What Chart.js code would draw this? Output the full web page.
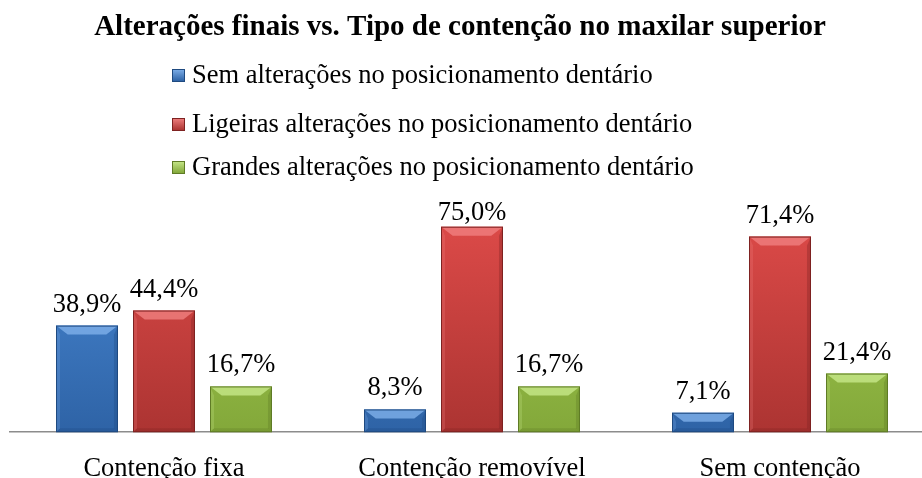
<!DOCTYPE html>
<html><head><meta charset="utf-8">
<script src="https://cdn.jsdelivr.net/npm/chart.js@4"></script>
<style>
html,body{margin:0;padding:0;background:#fff;overflow:hidden;width:922px;height:478px;}
#wrap{position:relative;width:936px;height:478px;overflow:hidden;}
canvas{display:block;}
</style></head>
<body><div id="wrap"><canvas id="c" width="936" height="506"></canvas></div>
<script>
const chartTitle = 'Alterações finais vs. Tipo de contenção no maxilar superior';
const categories = ['Contenção fixa', 'Contenção removível', 'Sem contenção'];
const seriesNames = ['Sem alterações no posicionamento dentário', 'Ligeiras alterações no posicionamento dentário', 'Grandes alterações no posicionamento dentário'];
const semAlteracoes = [38.9, 8.3, 7.1];
const ligeirasAlteracoes = [44.4, 75.0, 71.4];
const grandesAlteracoes = [16.7, 16.7, 21.4];
const palette = [
  {top:'#4a8ad6', mid:'#3d7cc9', bot:'#2e63a6', light:'#7fb0ea', dark:'#1f4a80'},
  {top:'#de4b49', mid:'#d24443', bot:'#ac3432', light:'#f08080', dark:'#7e2221'},
  {top:'#a6cf52', mid:'#9cc54a', bot:'#83a83a', light:'#c7e88a', dark:'#5f7b26'}
];
const serif = '"Liberation Serif","Times New Roman",serif';

function grad(ctx, area, p){
  if(!area) return p.mid;
  const g = ctx.createLinearGradient(0, area.top, 0, area.bottom);
  g.addColorStop(0, p.top); g.addColorStop(1, p.bot);
  return g;
}

const bevelPlugin = {
  id:'bevel',
  afterDatasetsDraw(chart){
    const ctx = chart.ctx;
    chart.data.datasets.forEach((ds, di) => {
      const p = palette[di];
      chart.getDatasetMeta(di).data.forEach((el, idx) => {
        const {x, y, base, width} = el.getProps(['x','y','base','width'], true);
        const l = x - width/2, r = x + width/2, t = y, b = base;
        const h = b - t;
        const bv = Math.min(9, h/2), sv = Math.min(4, width/2);
        ctx.save();
        ctx.fillStyle = p.light; ctx.globalAlpha = 0.8;
        ctx.beginPath(); ctx.moveTo(l,t); ctx.lineTo(r,t); ctx.lineTo(r-bv*1.3,t+bv); ctx.lineTo(l+bv*1.3,t+bv); ctx.closePath(); ctx.fill();
        ctx.globalAlpha = 0.25;
        ctx.beginPath(); ctx.moveTo(l,t); ctx.lineTo(l+sv,t+bv); ctx.lineTo(l+sv,b-sv); ctx.lineTo(l,b); ctx.closePath(); ctx.fill();
        ctx.fillStyle = p.dark; ctx.globalAlpha = 0.35;
        ctx.beginPath(); ctx.moveTo(r,t); ctx.lineTo(r-sv,t+bv); ctx.lineTo(r-sv,b-sv); ctx.lineTo(r,b); ctx.closePath(); ctx.fill();
        ctx.globalAlpha = 0.3;
        ctx.beginPath(); ctx.moveTo(l,b); ctx.lineTo(l+sv,b-sv); ctx.lineTo(r-sv,b-sv); ctx.lineTo(r,b); ctx.closePath(); ctx.fill();
        ctx.globalAlpha = 1;
        ctx.strokeStyle = p.dark; ctx.lineWidth = 1;
        ctx.strokeRect(l+0.5, t+0.5, width-1, h-1);
        ctx.restore();
        ctx.save();
        ctx.fillStyle = '#000'; ctx.font = '26.5px ' + serif;
        ctx.textAlign = 'center'; ctx.textBaseline = 'alphabetic';
        const v = ds.data[idx];
        const by = Math.max(t - 14, chart.chartArea.top + 7);
        ctx.fillText(v.toFixed(1).replace('.', ',') + '%', x, by);
        ctx.restore();
      });
    });
  }
};

const headerPlugin = {
  id:'header',
  afterDraw(chart){
    const ctx = chart.ctx;
    ctx.save();
    ctx.fillStyle = '#000';
    ctx.font = 'bold 29px ' + serif;
    ctx.textAlign = 'center'; ctx.textBaseline = 'middle';
    ctx.fillText(chartTitle, 460, 28);
    ctx.font = '26.5px ' + serif;
    ctx.textAlign = 'left';
    const ys = [75, 124, 167];
    chart.data.datasets.forEach((ds, i) => {
      const p = palette[i];
      const y = ys[i];
      const g = ctx.createLinearGradient(0, y-6, 0, y+6);
      g.addColorStop(0, p.light); g.addColorStop(1, p.bot);
      ctx.fillStyle = g;
      ctx.fillRect(172, y-6, 13, 13);
      ctx.strokeStyle = p.dark; ctx.lineWidth = 1;
      ctx.strokeRect(172.5, y-5.5, 12, 12);
      ctx.fillStyle = '#000';
      ctx.fillText(ds.label, 192, y+1);
    });
    ctx.restore();
  }
};

const seriesData = [semAlteracoes, ligeirasAlteracoes, grandesAlteracoes];
new Chart(document.getElementById('c'), {
  type:'bar',
  data:{
    labels: categories,
    datasets: seriesData.map((d, i) => ({
      label: seriesNames[i],
      data: d,
      backgroundColor: c => grad(c.chart.ctx, c.chart.chartArea, palette[i]),
      borderWidth: 0,
      categoryPercentage: 0.75,
      barPercentage: 0.805
    }))
  },
  options:{
    responsive:false, animation:false,
    devicePixelRatio:1,
    layout:{padding:{left:10, right:2, top:213, bottom:0}},
    plugins:{legend:{display:false}, title:{display:false}, tooltip:{enabled:false}},
    scales:{
      x:{
        grid:{display:false, drawTicks:false},
        border:{display:true, color:'#8c8c8c', width:1.5},
        ticks:{color:'#000', font:{family:serif, size:26.5}, padding:21, maxRotation:0}
      },
      y:{display:false, min:0, max:80}
    }
  },
  plugins:[bevelPlugin, headerPlugin]
});
</script>
</body></html>
